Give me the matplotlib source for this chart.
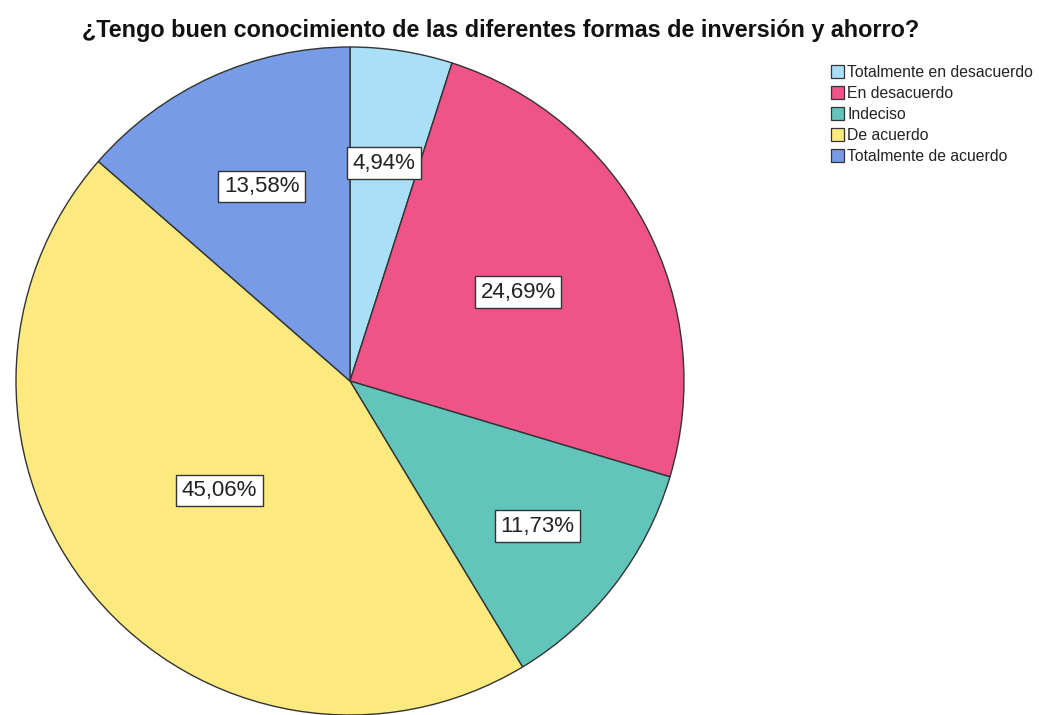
import numpy as np
import matplotlib
matplotlib.use('Agg')
import matplotlib.pyplot as plt
from matplotlib.patches import Patch

plt.rcParams['font.family'] = ['Liberation Sans', 'DejaVu Sans']

categories = ['Totalmente en desacuerdo', 'En desacuerdo', 'Indeciso',
              'De acuerdo', 'Totalmente de acuerdo']
values = [4.94, 24.69, 11.73, 45.06, 13.58]
colors = ['#a9dff7', '#ee5487', '#62c5bb', '#fdea7e', '#779be6']
label_dist = [0.66, 0.57, 0.71, 0.51, 0.64]

W, H = 1039, 715
fig = plt.figure(figsize=(W / 100, H / 100), dpi=100)

# pie axes: center ~ (350, 381) px, radius ~ 334 px
cx, cy, r = 350, 381, 334
ax = fig.add_axes([(cx - r) / W, (H - cy - r) / H, 2 * r / W, 2 * r / H])
wedges, _ = ax.pie(values, colors=colors, startangle=90, counterclock=False,
                   radius=1.0,
                   wedgeprops=dict(edgecolor='#333333', linewidth=1.0))
ax.set_xlim(-1, 1)
ax.set_ylim(-1, 1)
ax.set_aspect('equal')
ax.axis('off')

for w, v, d in zip(wedges, values, label_dist):
    ang = np.deg2rad((w.theta1 + w.theta2) / 2)
    ax.text(d * np.cos(ang), d * np.sin(ang), f'{v:.2f}%'.replace('.', ','),
            ha='center', va='center', fontsize=16, color='#222222',
            bbox=dict(boxstyle='square,pad=0.24', facecolor='white',
                      edgecolor='#333333', linewidth=1.0))

fig.text(501 / W, 1 - 30 / H,
         '¿Tengo buen conocimiento de las diferentes formas de inversión y ahorro?',
         ha='center', va='center', fontsize=16.8, fontweight='bold', color='#111111')

handles = [Patch(facecolor=c, edgecolor='#333333', linewidth=0.9) for c in colors]
fig.legend(handles, categories, loc='upper left',
           bbox_to_anchor=(831 / W, 1 - 65 / H), frameon=False, fontsize=11.3,
           handlelength=0.85, handleheight=0.85, handletextpad=0.2,
           labelspacing=0.38, borderaxespad=0, borderpad=0, labelcolor='#222222')

fig.savefig('out.png', dpi=100)
